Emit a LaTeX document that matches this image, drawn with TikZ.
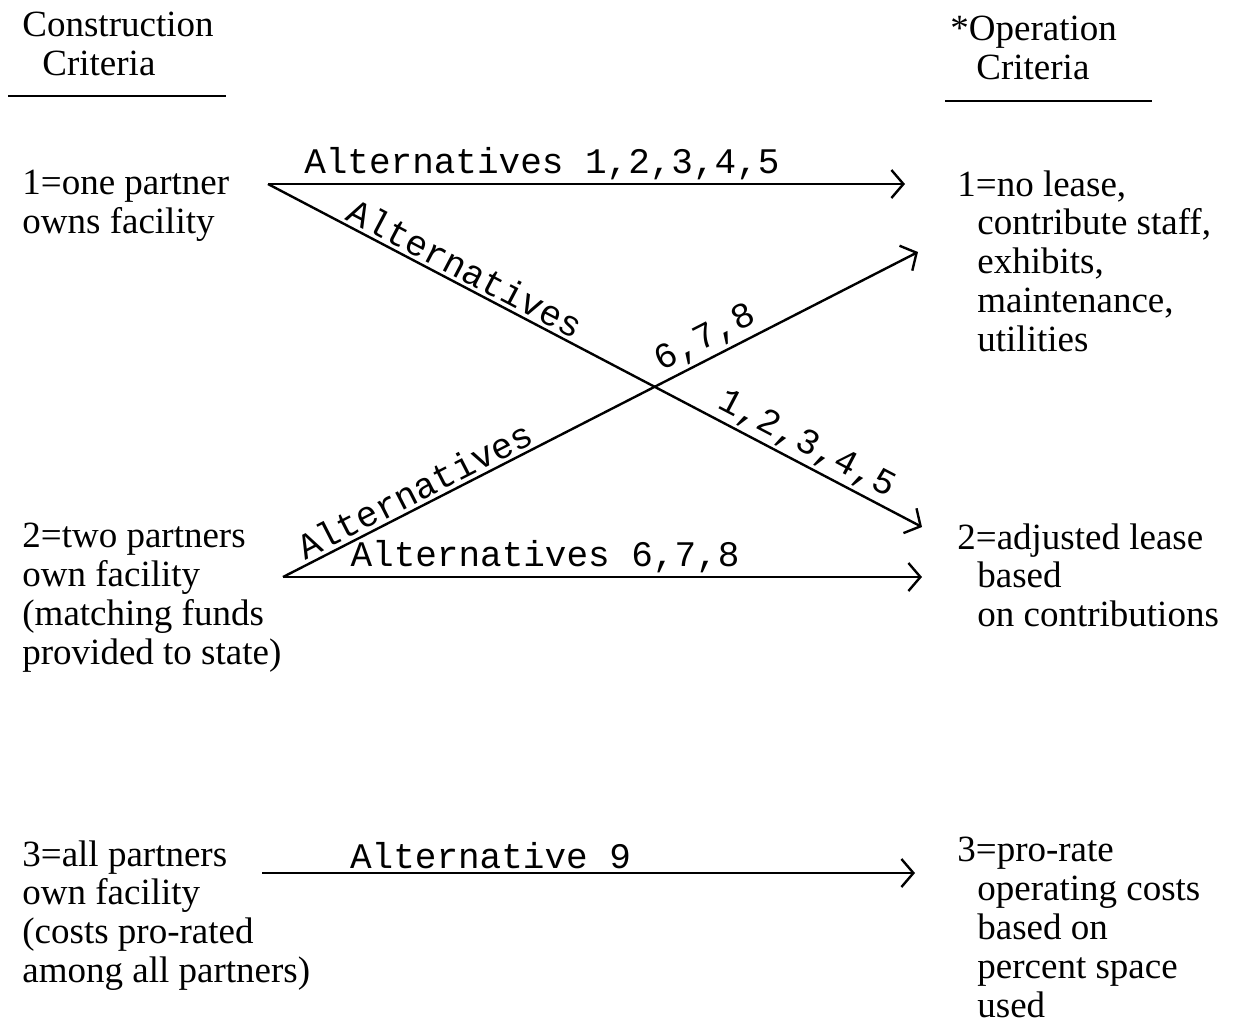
\documentclass[tikz,border=0pt]{standalone}
\usepackage{fontspec}
\setmainfont{Liberation Serif}
\setmonofont{Liberation Mono}
\usepackage{tikz}
\usetikzlibrary{arrows.meta, positioning}

\begin{document}
\begin{tikzpicture}[x=0.5pt, y=-0.5pt,
    crit/.style={anchor=north west, inner sep=0pt, align=left, font=\fontsize{18.5}{19.4}\selectfont},
    alt/.style={font=\ttfamily\fontsize{18}{20}\selectfont, inner sep=1.5pt},
    flow/.style={line width=1.2pt, -{Straight Barb[length=6pt, width=14pt, line width=1.2pt]}},
    rule/.style={line width=1.2pt}]
    \useasboundingbox[fill=white] (0,0) rectangle (1233,1025);

    % column headings
    \node[crit] (hcon) at (22,12) {Construction\\\hspace*{10pt}Criteria};
    \node[crit] (hop) at (950,16) {*Operation\\\hspace*{13pt}Criteria};
    \draw[rule] ([shift={(-14,84)}]hcon.north west) -- ++(218,0);
    \draw[rule] ([shift={(-5,85)}]hop.north west) -- ++(207,0);

    % construction criteria
    \node[crit] (c1) at (22,170) {1=one partner\\owns facility};
    \node[crit] (c2) at (22,523) {2=two partners\\own facility\\(matching funds\\provided to state)};
    \node[crit] (c3) at (22,840) {3=all partners\\own facility\\(costs pro-rated\\among all partners)};

    % operation criteria
    \node[crit] (o1) at (957,170) {1=no lease,\\\hspace*{10pt}contribute staff,\\\hspace*{10pt}exhibits,\\\hspace*{10pt}maintenance,\\\hspace*{10pt}utilities};
    \node[crit] (o2) at (957,523) {2=adjusted lease\\\hspace*{10pt}based\\\hspace*{10pt}on contributions};
    \node[crit] (o3) at (957,837) {3=pro-rate\\\hspace*{10pt}operating costs\\\hspace*{10pt}based on\\\hspace*{10pt}percent space\\\hspace*{10pt}used};

    % alternatives
    \draw[flow] ([shift={(246,14)}]c1.north west) -- node[alt, pos=0.43, above] {Alternatives 1,2,3,4,5} ([shift={(-52,14)}]o1.north west);
    \draw[flow] ([shift={(246,14)}]c1.north west) -- node[alt, pos=0.29, above, sloped] {Alternatives}
        node[alt, pos=0.81, above, sloped] {1,2,3,4,5} ([shift={(-35,4)}]o2.north west);
    \draw[flow] ([shift={(261,54)}]c2.north west) -- node[alt, pos=0.22, above, sloped] {Alternatives}
        node[alt, pos=0.68, above, sloped] {6,7,8} ([shift={(-39,82)}]o1.north west);
    \draw[flow] ([shift={(261,54)}]c2.north west) -- node[alt, pos=0.41, above] {Alternatives 6,7,8} ([shift={(-35,54)}]o2.north west);
    \draw[flow] ([shift={(240,33)}]c3.north west) -- node[alt, pos=0.35, above] {Alternative 9} ([shift={(-42,36)}]o3.north west);
\end{tikzpicture}
\end{document}
